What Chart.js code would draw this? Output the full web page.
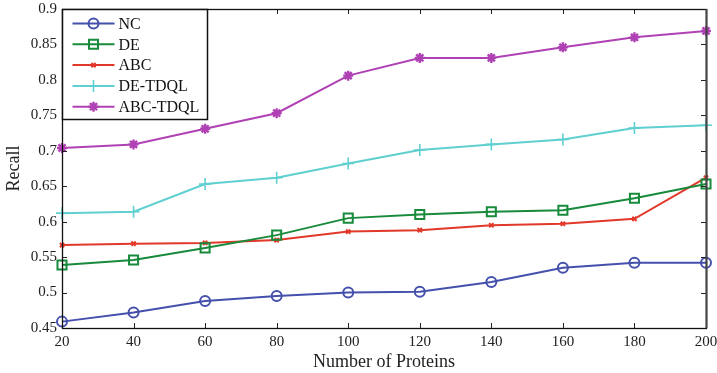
<!DOCTYPE html>
<html>
<head>
<meta charset="utf-8">
<script src="https://cdn.jsdelivr.net/npm/chart.js@4"></script>
<style>
html,body{margin:0;padding:0;background:#fff;}
#c{display:block;}
</style>
</head>
<body>
<canvas id="c" width="717" height="373"></canvas>
<script>
// ---- data ----
const proteins = [20, 40, 60, 80, 100, 120, 140, 160, 180, 200];
const seriesNames = ["NC", "DE", "ABC", "DE-TDQL", "ABC-TDQL"];
const ncRecall      = [0.459, 0.472, 0.488, 0.495, 0.500, 0.501, 0.515, 0.535, 0.542, 0.542];
const deRecall      = [0.539, 0.546, 0.563, 0.581, 0.605, 0.610, 0.614, 0.616, 0.633, 0.653];
const abcRecall     = [0.567, 0.569, 0.570, 0.574, 0.586, 0.588, 0.595, 0.597, 0.604, 0.662];
const deTdqlRecall  = [0.612, 0.614, 0.653, 0.662, 0.682, 0.701, 0.709, 0.716, 0.732, 0.736];
const abcTdqlRecall = [0.704, 0.709, 0.731, 0.753, 0.806, 0.831, 0.831, 0.846, 0.860, 0.869];
const xTicks = [20, 40, 60, 80, 100, 120, 140, 160, 180, 200];
const yTicks = [0.45, 0.5, 0.55, 0.6, 0.65, 0.7, 0.75, 0.8, 0.85, 0.9];
const xTitle = "Number of Proteins";
const yTitle = "Recall";

// ---- styles ----
const colors = ["#4450ac", "#178a3b", "#e2382a", "#5fcfd0", "#b041b4"];
const styles = [
  {pointStyle: "circle",   pointRadius: 5,   pointBorderWidth: 2},
  {pointStyle: "rect",     pointRadius: 6.4, pointBorderWidth: 2},
  {pointStyle: "crossRot", pointRadius: 3,   pointBorderWidth: 2},
  {pointStyle: "cross",    pointRadius: 6,   pointBorderWidth: 1.6},
  {pointStyle: "star",     pointRadius: 5,   pointBorderWidth: 2.4}
];
const allSeries = [ncRecall, deRecall, abcRecall, deTdqlRecall, abcTdqlRecall];

const serif = "'Liberation Serif', 'Times New Roman', serif";

const datasets = allSeries.map((vals, i) => Object.assign({
  label: seriesNames[i],
  data: vals.map((v, j) => ({x: proteins[j], y: v})),
  borderColor: colors[i],
  pointBorderColor: colors[i],
  backgroundColor: "rgba(0,0,0,0)",
  pointBackgroundColor: "rgba(0,0,0,0)",
  borderWidth: 2,
  tension: 0,
  clip: false
}, styles[i]));

const framePlugin = {
  id: "frameLegend",
  afterDatasetsDraw(chart) {
    const ctx = chart.ctx;
    const a = chart.chartArea;
    const xs = chart.scales.x, ys = chart.scales.y;
    ctx.save();
    // inward ticks
    ctx.strokeStyle = "#222";
    ctx.lineWidth = 1;
    ctx.beginPath();
    xTicks.forEach(v => {
      const px = Math.round(xs.getPixelForValue(v)) + 0.5;
      ctx.moveTo(px, a.bottom); ctx.lineTo(px, a.bottom - 5);
      ctx.moveTo(px, a.top); ctx.lineTo(px, a.top + 5);
    });
    yTicks.forEach(v => {
      const py = Math.round(ys.getPixelForValue(v)) + 0.5;
      ctx.moveTo(a.left, py); ctx.lineTo(a.left + 5, py);
      ctx.moveTo(a.right, py); ctx.lineTo(a.right - 5, py);
    });
    ctx.stroke();
    // frame
    ctx.strokeStyle = "#111";
    ctx.lineWidth = 1.3;
    ctx.strokeRect(Math.round(a.left) + 0.5, Math.round(a.top) + 0.5,
                   Math.round(a.right - a.left), Math.round(a.bottom - a.top));
    ctx.strokeStyle = "#444";
    ctx.lineWidth = 2;
    ctx.beginPath();
    ctx.moveTo(Math.round(a.right) + 0.5, a.top);
    ctx.lineTo(Math.round(a.right) + 0.5, a.bottom);
    ctx.stroke();

    // legend box
    const lx = Math.round(a.left) + 0.5, ly = Math.round(a.top) + 0.5;
    const lw = 145, lh = 110;
    ctx.fillStyle = "#fff";
    ctx.fillRect(lx, ly, lw, lh);
    ctx.strokeStyle = "#111";
    ctx.lineWidth = 1.5;
    ctx.strokeRect(lx, ly, lw, lh);
    chart.data.datasets.forEach((ds, i) => {
      const y = ly + 14 + i * 20.8;
      ctx.strokeStyle = ds.borderColor;
      ctx.lineWidth = 2;
      ctx.beginPath();
      ctx.moveTo(lx + 10, y); ctx.lineTo(lx + 52, y);
      ctx.stroke();
      const opts = {
        pointStyle: ds.pointStyle, radius: ds.pointRadius,
        borderWidth: ds.pointBorderWidth, rotation: 0
      };
      ctx.strokeStyle = ds.pointBorderColor;
      ctx.fillStyle = "rgba(0,0,0,0)";
      ctx.lineWidth = ds.pointBorderWidth;
      Chart.helpers.drawPoint(ctx, opts, lx + 31, y);
      ctx.fillStyle = "#111";
      ctx.font = "16px " + serif;
      ctx.textAlign = "left";
      ctx.textBaseline = "middle";
      ctx.fillText(ds.label, lx + 56, y + 1);
    });
    ctx.restore();
  }
};

new Chart(document.getElementById("c"), {
  type: "line",
  data: {datasets},
  options: {
    responsive: false,
    animation: false,
    devicePixelRatio: 1,
    layout: {padding: {top: 9, right: 11, left: 0, bottom: 0}},
    plugins: {legend: {display: false}, tooltip: {enabled: false}},
    scales: {
      x: {
        type: "linear",
        min: 20, max: 200,
        afterBuildTicks: s => { s.ticks = xTicks.map(v => ({value: v})); },
        ticks: {
          font: {family: serif, size: 15}, color: "#222", padding: 5,
          maxRotation: 0, autoSkip: false,
          callback: v => String(v)
        },
        grid: {display: false, drawTicks: false},
        border: {display: false},
        title: {display: true, text: xTitle, font: {family: serif, size: 18},
                color: "#222", padding: {top: 0, bottom: 0}},
        afterFit: s => { s.height = 45; s.paddingLeft = 0; s.paddingRight = 0; }
      },
      y: {
        type: "linear",
        min: 0.45, max: 0.9,
        afterBuildTicks: s => { s.ticks = yTicks.map(v => ({value: v})); },
        ticks: {
          font: {family: serif, size: 15}, color: "#222", padding: 5,
          autoSkip: false,
          callback: v => String(+v.toFixed(2))
        },
        grid: {display: false, drawTicks: false},
        border: {display: false},
        title: {display: true, text: yTitle, font: {family: serif, size: 18},
                color: "#222", padding: {top: 3, bottom: 0}},
        afterFit: s => { s.width = 62; s.paddingTop = 0; s.paddingBottom = 0; }
      }
    }
  },
  plugins: [framePlugin]
});
</script>
</body>
</html>
